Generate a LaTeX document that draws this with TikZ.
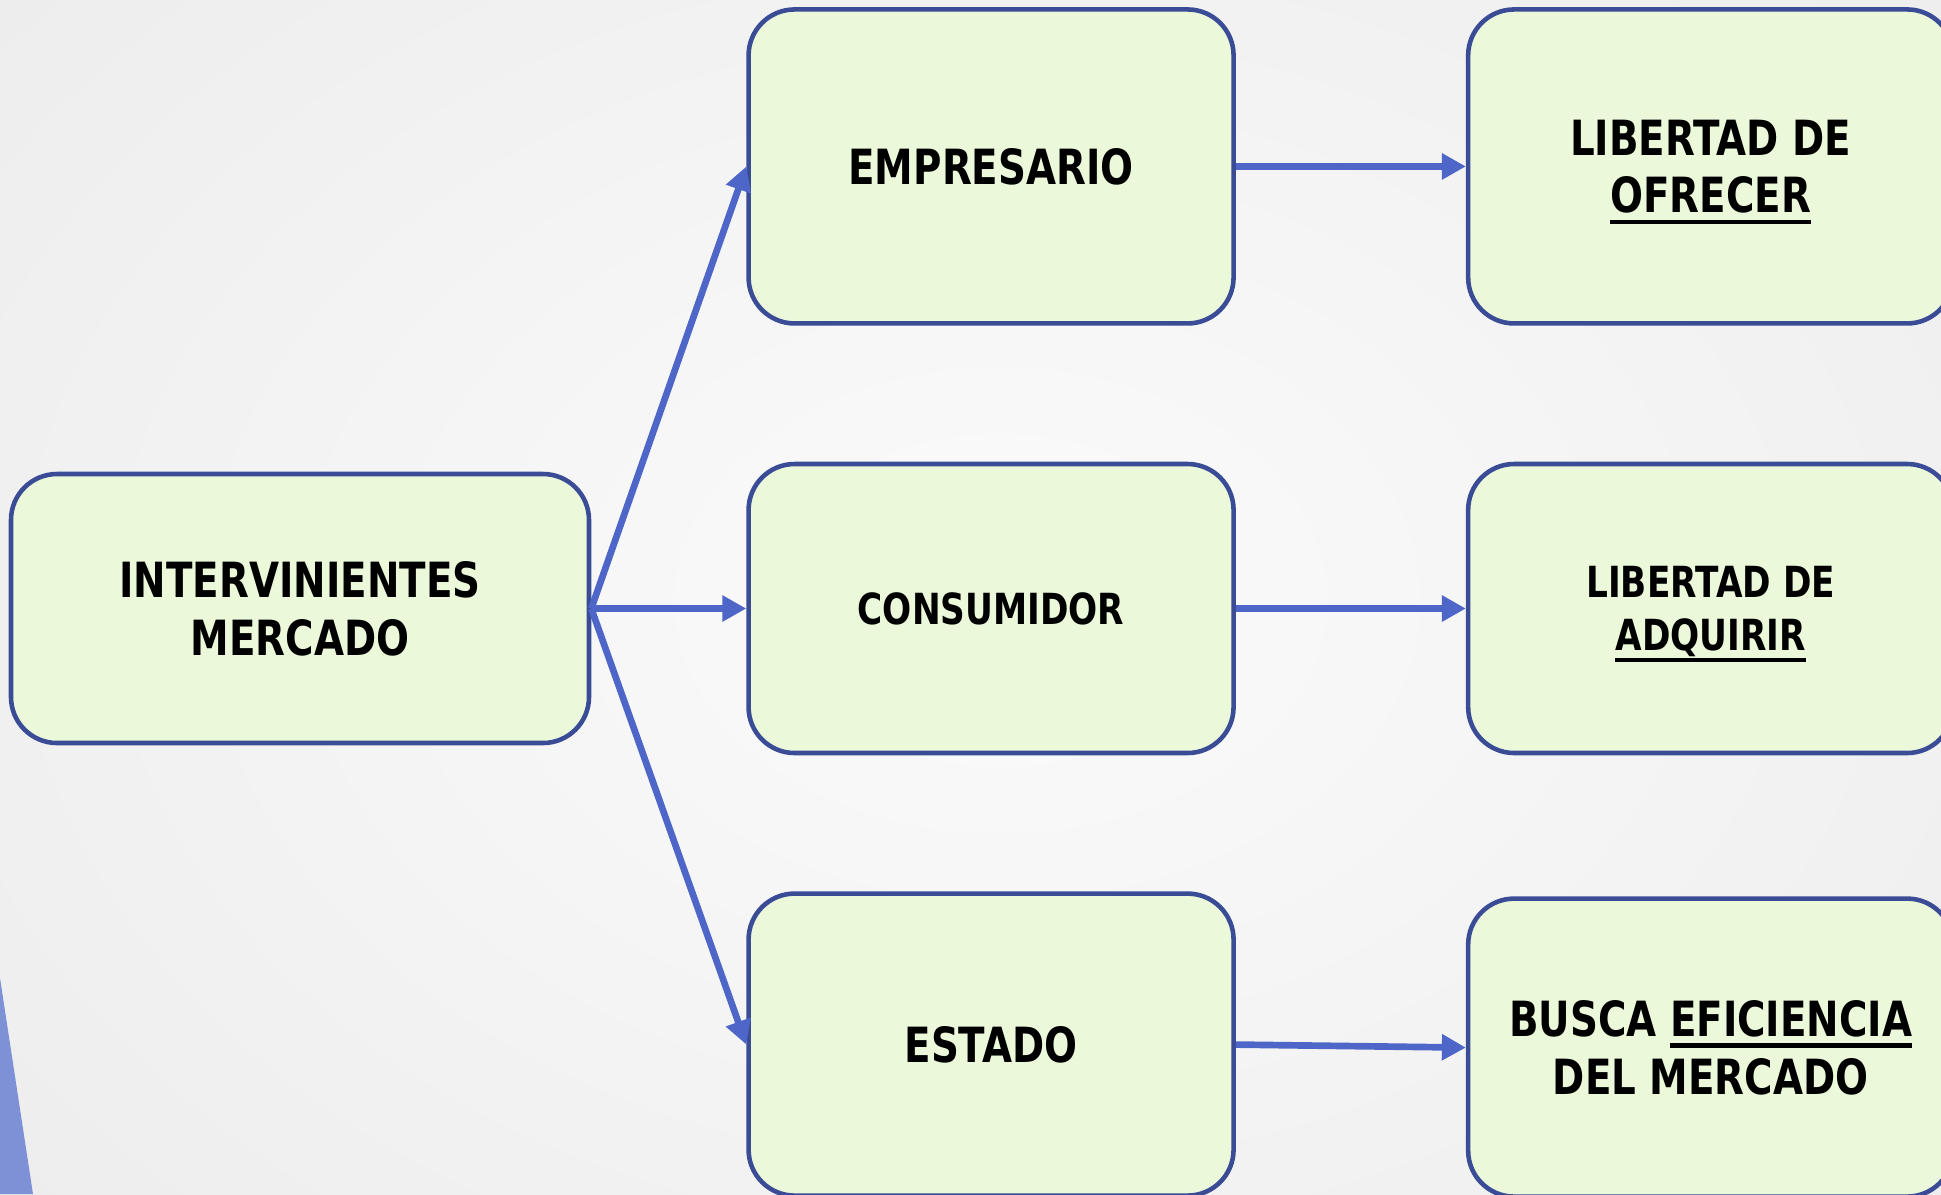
\documentclass[tikz,border=0pt]{standalone}
\usepackage{fontspec}
\usepackage{tikz}
\usetikzlibrary{arrows.meta,positioning}
\newfontfamily\cajafont[FakeStretch=0.80]{DejaVu Sans}
\definecolor{fondoin}{HTML}{FBFBFB}
\definecolor{fondoout}{HTML}{ECECEC}
\definecolor{verdecaja}{HTML}{EBF8DA}
\definecolor{bordecaja}{HTML}{3A4C96}
\definecolor{flecha}{HTML}{4E66C8}
\definecolor{lila}{HTML}{7F91D6}
\newcommand{\subr}[1]{\setbox0=\hbox{#1}\dp0=0pt\vtop{\box0\kern2pt\hrule height 1.15pt\kern-3.15pt}}

\begin{document}
\begin{tikzpicture}[caja/.style={rectangle,rounded corners=0.46cm,draw=bordecaja,line width=1.3pt,fill=verdecaja,
       minimum width=4.85cm,align=center,font=\cajafont\bfseries\fontsize{13.8}{16.4}\selectfont},
       chica/.style={font=\cajafont\bfseries\fontsize{12.2}{15}\selectfont},
       enlace/.style={draw=flecha,line width=1.9pt,-{Triangle[length=0.24cm,width=0.25cm]}}]
       \useasboundingbox (0,0) rectangle (19.41,-11.94);
       \clip (0,0) rectangle (19.41,-11.94);
       \shade[inner color=fondoin,outer color=fondoout] (-4,4) rectangle (24,-16);
       \fill[lila] (0,-9.78) -- (0.33,-11.94) -- (0,-11.94) -- cycle;

       \node[caja,minimum width=5.78cm,minimum height=2.69cm] (inter) at (3.00,-6.085) {INTERVINIENTES\\MERCADO};

       \node[caja,chica,minimum height=2.89cm] (consumidor) [right=1.55cm of inter] {CONSUMIDOR};
       \node[caja,minimum height=3.14cm] (empresario) [above=1.36cm of consumidor] {EMPRESARIO};
       \node[caja,minimum height=3.02cm] (estado) [below=1.36cm of consumidor] {ESTADO};

       \node[caja,minimum height=3.14cm] (ofrecer) [right=2.30cm of empresario] {LIBERTAD DE\\\subr{OFRECER}};
       \node[caja,chica,minimum height=2.89cm] (adquirir) [right=2.30cm of consumidor] {LIBERTAD DE\\\subr{ADQUIRIR}};
       \node[caja,minimum height=2.98cm] (eficiencia) [right=2.30cm of estado,yshift=-0.03cm] {BUSCA \subr{EFICIENCIA}\\DEL MERCADO};

       \draw [enlace] (inter.east) -- (empresario.west);
       \draw [enlace] (inter.east) -- (consumidor.west);
       \draw [enlace] (inter.east) -- (estado.west);

       \draw [enlace] (empresario.east) -- (ofrecer.west);
       \draw [enlace] (consumidor.east) -- (adquirir.west);
       \draw [enlace] (estado.east) -- (eficiencia.west);
\end{tikzpicture}
\end{document}
